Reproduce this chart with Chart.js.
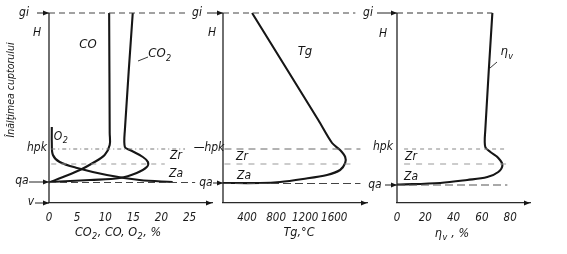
<!DOCTYPE html>
<html><head><meta charset="utf-8">
<script src="https://cdn.jsdelivr.net/npm/chart.js@4.4.0/dist/chart.umd.min.js"></script>
<style>
html,body{margin:0;padding:0;background:#fff;}
#wrap{position:relative;width:567px;height:254px;overflow:hidden;background:#fff;}
#wrap canvas{position:absolute;left:0;top:0;}
</style></head><body>
<div id="wrap">
<canvas id="c1" width="567" height="254"></canvas>
<canvas id="c2" width="567" height="254"></canvas>
<canvas id="c3" width="567" height="254"></canvas>
</div>
<script>
// ---- height levels (furnace height, arbitrary units; v = 0) ----
const levelGi = 19.0;
const levelHpk = 5.4;
const levelZr = 3.9;
const levelQa = 2.0;

// ---- panel 1: gas composition, % ----
const gasTicks = [0, 5, 10, 15, 20, 25];
const coX  = [10.7, 10.8, 10.8, 9.9, 7.8, 5.5, 2.5, 0];
const coH  = [19.0, 7.0, 5.8, 4.8, 4.0, 3.3, 2.6, 2.05];
const co2X = [14.9, 13.5, 13.5, 14.4, 16.7, 17.6, 17.4, 15.6, 12.6, 7.3, 0.2];
const co2H = [19.0, 7.3, 5.6, 5.3, 4.6, 4.1, 3.6, 3.0, 2.5, 2.3, 2.1];
const o2X  = [0.5, 0.5, 0.7, 1.9, 5.0, 10.3, 16.1, 22.0];
const o2H  = [7.6, 6.0, 4.8, 4.1, 3.5, 2.8, 2.3, 2.1];

// ---- panel 2: gas temperature Tg, °C ----
const tempTicks = [400, 800, 1200, 1600];
const tgX = [470, 1380, 1570, 1680, 1750, 1750, 1680, 1500, 1170, 855, 580, 70];
const tgH = [19.0, 8.3, 6.0, 5.3, 4.6, 4.0, 3.3, 2.8, 2.4, 2.1, 2.0, 2.0];

// ---- panel 3: gas utilisation ηv, % ----
const etaTicks = [0, 20, 40, 60, 80];
const etaX = [67.4, 62.4, 62.4, 66.0, 71.6, 74.5, 71.6, 63.8, 49.6, 30.5, 2, 0];
const etaH = [19.0, 7.3, 5.6, 5.1, 4.5, 3.8, 3.1, 2.6, 2.3, 2.0, 1.85, 1.85];

// ---------------------------------------------------------------
const FONT = '"Liberation Sans Narrow","DejaVu Sans Condensed","Liberation Sans",sans-serif';
const INK = '#161616';

function pts(xs, hs){ return xs.map((x,i)=>({x:x, y:hs[i]})); }
function curve(xs, hs, tension){
  return {data:pts(xs,hs), showLine:true, borderColor:INK, borderWidth:2.1,
          pointRadius:0, tension:tension===undefined?0.35:tension, clip:false, fill:false};
}
function level(h, x0, x1, dash, color, w){
  return {data:[{x:x0,y:h},{x:x1,y:h}], showLine:true, borderColor:color||'#555',
          borderWidth:w||1, borderDash:dash, pointRadius:0, tension:0, clip:false, fill:false};
}

function arrowHead(ctx, x, y, dir){
  ctx.beginPath();
  ctx.moveTo(x, y);
  ctx.lineTo(x - dir*6, y - 2.5);
  ctx.lineTo(x - dir*6, y + 2.5);
  ctx.closePath();
  ctx.fill();
}

// parts: array of [text, isSubscript]
function drawRich(ctx, parts, x, y, size, align){
  const ss = Math.round(size*0.72);
  const widths = parts.map(p=>{
    ctx.font = 'italic ' + (p[1]?ss:size) + 'px ' + FONT;
    return ctx.measureText(p[0]).width + (p[1]?1:0);
  });
  const total = widths.reduce((a,b)=>a+b,0);
  let x0 = x;
  if (align === 'center') x0 = x - total/2;
  else if (align === 'right') x0 = x - total;
  ctx.textBaseline = 'middle';
  ctx.textAlign = 'left';
  parts.forEach((p,i)=>{
    ctx.font = 'italic ' + (p[1]?ss:size) + 'px ' + FONT;
    ctx.fillText(p[0], x0 + (p[1]?0.5:0), y + (p[1]?size*0.32:0));
    x0 += widths[i];
  });
}

function makePanel(id, cfg){
  const deco = {
    id:'deco'+id,
    afterDraw(chart){
      const ctx = chart.ctx, xs = chart.scales.x, ys = chart.scales.y;
      ctx.save();
      ctx.fillStyle = INK; ctx.strokeStyle = '#222';
      const ax = xs.getPixelForValue(cfg.xMin);
      ctx.lineWidth = 1.3;
      ctx.beginPath();
      ctx.moveTo(ax, ys.getPixelForValue(levelGi));
      ctx.lineTo(ax, ys.getPixelForValue(0));
      ctx.stroke();
      const bx = xs.getPixelForValue(cfg.xMax), by = ys.getPixelForValue(0);
      arrowHead(ctx, bx, by, 1);
      cfg.arrows.forEach(a=>{
        const y = ys.getPixelForValue(a.h);
        ctx.lineWidth = 1;
        ctx.beginPath(); ctx.moveTo(ax - a.len, y); ctx.lineTo(ax, y); ctx.stroke();
        arrowHead(ctx, ax, y, 1);
      });
      (cfg.leaders||[]).forEach(l=>{
        ctx.lineWidth = 0.9;
        ctx.beginPath(); ctx.moveTo(l[0], l[1]); ctx.lineTo(l[2], l[3]); ctx.stroke();
      });
      cfg.texts.forEach(t=>{
        drawRich(ctx, t.p, t.x, t.y, t.s||12, t.a||'center');
      });
      if (cfg.rot){
        ctx.translate(cfg.rot.x, cfg.rot.y);
        ctx.rotate(-Math.PI/2);
        drawRich(ctx, [[cfg.rot.t]], 0, 0, 10.5, 'center');
      }
      ctx.restore();
    }
  };
  return new Chart(document.getElementById(id), {
    type:'scatter',
    data:{datasets:cfg.datasets},
    options:{
      responsive:false, animation:false, devicePixelRatio:1,
      layout:{padding:{left:cfg.left, right:cfg.right, top:13, bottom:0}},
      plugins:{legend:{display:false}, tooltip:{enabled:false}},
      scales:{
        x:{type:'linear', min:cfg.xMin, max:cfg.xMax,
           afterBuildTicks:s=>{ s.ticks = cfg.ticks.map(v=>({value:v})); },
           afterFit:s=>{ s.height = 51; },
           grid:{display:false, drawTicks:false},
           border:{display:true, color:'#2a2a2a', width:1.2},
           ticks:{padding:8, color:'#1a1a1a', autoSkip:false, maxRotation:0,
                  font:{family:FONT, size:11.5, style:'italic'},
                  callback:v=>String(v)}},
        y:{type:'linear', min:0, max:levelGi, display:false}
      },
      elements:{point:{radius:0}}
    },
    plugins:[deco]
  });
}

// panel 1
makePanel('c1', {
  xMin:0, xMax:29, ticks:gasTicks, left:49, right:567-212,
  datasets:[
    level(levelGi, 0, 24.2, [6,4], '#444', 1.1),
    level(levelHpk, 0.4, 24.2, [4,3,1,3], '#777', 1),
    level(levelZr, 0.4, 20.6, [5,5], '#999', 1),
    level(levelQa+0.05, 0, 26, [7,4], '#444', 1.1),
    curve(coX, coH), curve(co2X, co2H), curve(o2X, o2H)
  ],
  arrows:[{h:levelGi,len:12},{h:levelQa+0.1,len:20},{h:0,len:14}],
  leaders:[[138,61,148,57]],
  texts:[
    {p:[['gi']], x:24, y:13}, {p:[['H']], x:37, y:33},
    {p:[['hpk']], x:37, y:148}, {p:[['qa']], x:22, y:181}, {p:[['v']], x:31, y:202},
    {p:[['CO']], x:88, y:45, s:13}, {p:[['CO'],['2',1]], x:160, y:54, s:13},
    {p:[['O'],['2',1]], x:61, y:137, s:12},
    {p:[['Zr']], x:176, y:156}, {p:[['Za']], x:176, y:174},
    {p:[['CO'],['2',1],[', CO, O'],['2',1],[', %']], x:118, y:233, s:12.5}
  ],
  rot:{t:'Înălţimea cuptorului', x:11, y:90}
});
// panel 2
makePanel('c2', {
  xMin:70, xMax:2050, ticks:tempTicks, left:223, right:567-367,
  datasets:[
    level(levelGi, 70, 1890, [6,4], '#444', 1.1),
    level(levelHpk, 90, 1960, [7,5], '#666', 1),
    level(levelZr, 90, 1890, [6,6], '#999', 1),
    level(levelQa-0.05, 70, 1960, [8,4], '#444', 1.1),
    curve(tgX, tgH, 0.3)
  ],
  arrows:[{h:levelGi,len:16},{h:levelQa,len:10}],
  texts:[
    {p:[['gi']], x:197, y:13}, {p:[['H']], x:212, y:33},
    {p:[['—hpk']], x:209, y:148}, {p:[['qa']], x:206, y:183},
    {p:[['Zr']], x:242, y:157}, {p:[['Za']], x:244, y:176},
    {p:[['Tg']], x:305, y:52, s:13},
    {p:[['Tg,°C']], x:299, y:233, s:12.5}
  ]
});
// panel 3
makePanel('c3', {
  xMin:0, xMax:94, ticks:etaTicks, left:397, right:567-530,
  datasets:[
    level(levelGi, 0, 67.4, [6,4], '#333', 1.1),
    level(levelHpk, 5, 78, [4,4], '#888', 1),
    level(levelZr, 5, 78, [6,6], '#999', 1),
    level(levelQa-0.2, 0, 78, [8,4], '#555', 1.1),
    curve(etaX, etaH)
  ],
  arrows:[{h:levelGi,len:20},{h:levelQa-0.2,len:12}],
  leaders:[[490,68,497,62]],
  texts:[
    {p:[['gi']], x:368, y:13}, {p:[['H']], x:383, y:34},
    {p:[['hpk']], x:383, y:147}, {p:[['qa']], x:375, y:185},
    {p:[['Zr']], x:411, y:157}, {p:[['Za']], x:411, y:177},
    {p:[['η'],['v',1]], x:507, y:52, s:13},
    {p:[['η'],['v',1],[' , %']], x:452, y:234, s:12.5}
  ]
});
</script>
</body></html>
